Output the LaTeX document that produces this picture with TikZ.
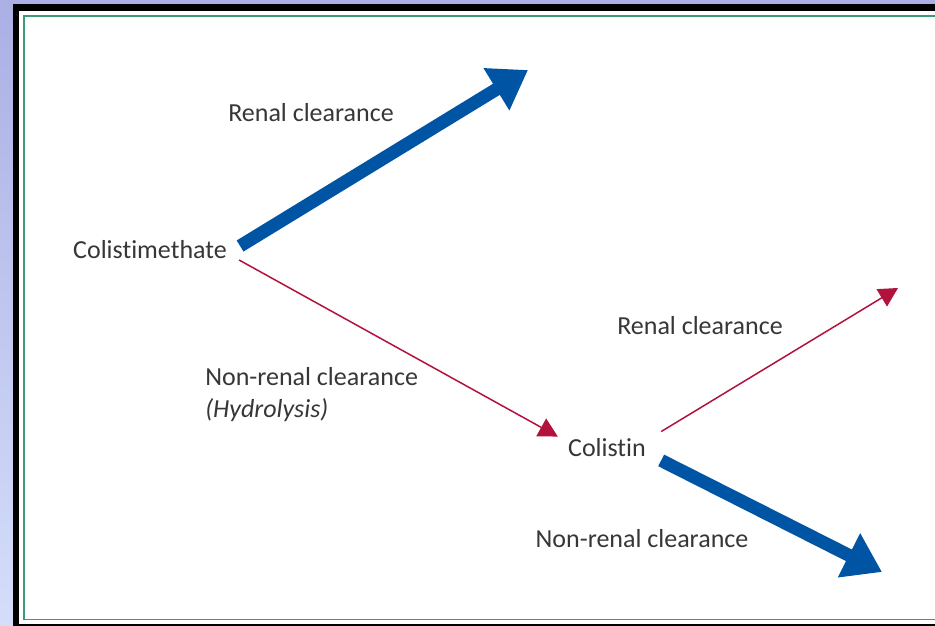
\documentclass[tikz,border=0pt]{standalone}
\usepackage{fontspec}
\setmainfont{Carlito}[Ligatures=NoCommon]
\usetikzlibrary{arrows.meta,calc}
\definecolor{flowblue}{RGB}{0,84,164}
\definecolor{flowred}{RGB}{178,18,60}
\definecolor{framegreen}{RGB}{60,155,115}
\definecolor{labelgray}{RGB}{55,55,55}
\definecolor{bgtop}{RGB}{170,176,228}
\definecolor{bgbot}{RGB}{212,222,250}

\begin{document}
\begin{tikzpicture}[x=1pt,y=-1pt
  ,font=\fontsize{26}{32}\selectfont
  ,every node/.style={text=labelgray,inner sep=2pt}
  ,semithick]
  \tikzstyle{bigflow}=[flowblue,line width=13pt,-{Triangle[length=37pt,width=47pt]}]
  \tikzstyle{thinflow}=[flowred,line width=1.5pt,-{Triangle[length=19pt,width=20pt]}]

  % slide background and frame
  \useasboundingbox (0,0) rectangle (935,626);
  \shade[top color=bgtop,bottom color=bgbot] (0,0) rectangle (935,626);
  \fill[white] (16,7) rectangle (960,640);
  \draw[line width=6.5pt] (16.2,7.4) rectangle (960,626.8);
  \draw[framegreen,line width=1.6pt] (24,15.8) rectangle (960,619.5);

  % labels
  \node (cmt) at (150,250) {Colistimethate};
  \node (col) at (607,448) {Colistin};
  \node (rc1) at (311,113) {Renal clearance};
  \node (rc2) at (700,326) {Renal clearance};
  \node (nrc1) [anchor=north west,align=left] at (203,365)
    {Non-renal clearance\\\textit{(Hydrolysis)}};
  \node (nrc2) at (642,539) {Non-renal clearance};

  % free ends
  \coordinate (rc1end) at (528,70);
  \coordinate (rc2end) at (898,288);
  \coordinate (nrc2end) at (882,572);

  \draw[bigflow] ($(cmt.east)+(11,-4)$) -- (rc1end);
  \draw[thinflow] ($(cmt.east)+(10,10)$) -- ($(col.north west)+(-8,0)$);
  \draw[thinflow] ($(col.north east)+(13,-5)$) -- (rc2end);
  \draw[bigflow] ($(col.south east)+(13,1)$) -- (nrc2end);
\end{tikzpicture}
\end{document}
